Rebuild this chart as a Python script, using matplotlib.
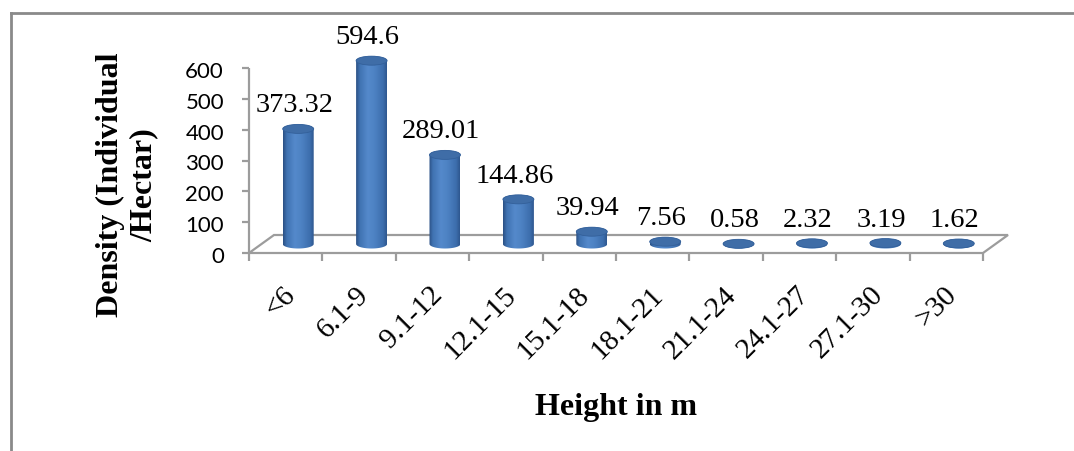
import numpy as np
import matplotlib
matplotlib.use("Agg")
import matplotlib.pyplot as plt
from matplotlib.patches import Ellipse, PathPatch, Polygon
from matplotlib.path import Path
from matplotlib.lines import Line2D
from matplotlib.colors import LinearSegmentedColormap

# ---- data ----
categories = ["<6", "6.1-9", "9.1-12", "12.1-15", "15.1-18",
              "18.1-21", "21.1-24", "24.1-27", "27.1-30", ">30"]
density = [373.32, 594.6, 289.01, 144.86, 39.94, 7.56, 0.58, 2.32, 3.19, 1.62]
value_labels = ["373.32", "594.6", "289.01", "144.86", "39.94",
                "7.56", "0.58", "2.32", "3.19", "1.62"]
y_ticks = [0, 100, 200, 300, 400, 500, 600]

# ---- layout (pixels) ----
W, H, DPI = 1074, 452, 100
X0_PX, STEP_PX = 249, 73.4          # front-left corner of floor, category width
Y0_PX, PX_PER_UNIT = 254, 185 / 600  # baseline and vertical scale
DEPTH_DX_PX, DEPTH_DY_PX = 25, 18    # floor depth offset
CYL_HALF_W_PX, CAP_HALF_H_PX = 15.5, 4.5

fig = plt.figure(figsize=(W / DPI, H / DPI), dpi=DPI)
ax = fig.add_axes([0, 0, 1, 1])
ax.set_axis_off()

# data units
DX = DEPTH_DX_PX / STEP_PX
DY = DEPTH_DY_PX / PX_PER_UNIT
cw = CYL_HALF_W_PX / STEP_PX
ch = CAP_HALF_H_PX / PX_PER_UNIT
n = len(categories)

grey = "#9c9c9c"
serif = "Liberation Serif"
sans = "Lato"
PT = 72 / DPI  # points per pixel

# floor
floor = Polygon([(0, 0), (n, 0), (n + DX, DY), (DX, DY)], closed=True,
                facecolor="white", edgecolor=grey, lw=1.6, zorder=1,
                joinstyle="miter")
ax.add_patch(floor)

# value axis
ax.plot([0, 0], [0, y_ticks[-1]], color=grey, lw=1.6, zorder=2,
        solid_capstyle="butt")
for t in y_ticks:
    ax.plot([-7 / STEP_PX, 0], [t, t], color=grey, lw=1.6, zorder=2,
            solid_capstyle="butt")
    ax.annotate(str(t), xy=(0, t), xytext=(-25 * PT, -3 * PT),
                textcoords="offset points", ha="right", va="center",
                fontsize=16, family=sans, color="black")

# category ticks
for k in range(n + 1):
    ax.plot([k, k], [0, -8 / PX_PER_UNIT], color=grey, lw=1.6, zorder=2,
            solid_capstyle="butt")

# category labels
for i, lab in enumerate(categories):
    ax.annotate(lab, xy=(i + 0.5, 0), xytext=(6 * PT, -37 * PT),
                textcoords="offset points", ha="right", va="center",
                rotation=45, rotation_mode="anchor",
                fontsize=21, family=serif, color="black")

# cylinder shading
body_cmap = LinearSegmentedColormap.from_list(
    "cyl", [(0.0, "#2b5185"), (0.12, "#4073b2"), (0.38, "#5489cb"),
            (0.6, "#4d82c3"), (0.88, "#3d6ead"), (1.0, "#2e5890")])
grad = body_cmap(np.linspace(0, 1, 64))[None, :, :3]


def cylinder(cx, y0, y1):
    th = np.linspace(np.pi, 2 * np.pi, 60)
    lower = np.column_stack([cx + cw * np.cos(th), y0 + ch * np.sin(th)])
    th2 = np.linspace(0, np.pi, 60)
    upper = np.column_stack([cx + cw * np.cos(th2), y1 + ch * np.sin(th2)])
    verts = np.vstack([[[cx - cw, y1]], lower, [[cx + cw, y1]], upper])
    body = PathPatch(Path(verts, closed=False), facecolor="none",
                     edgecolor="none", zorder=3)
    ax.add_patch(body)
    im = ax.imshow(grad, extent=[cx - cw, cx + cw, y0 - ch, y1 + ch],
                   aspect="auto", interpolation="bilinear", zorder=3)
    im.set_clip_path(body)
    cap = Ellipse((cx, y1), 2 * cw, 2 * ch, facecolor="#3f6da7",
                  edgecolor="#33609a", lw=0.6, zorder=4)
    ax.add_patch(cap)


for i, v in enumerate(density):
    cx = i + 0.5 + DX / 2
    base = DY / 2
    top = base + v
    cylinder(cx, base, top)
    ax.annotate(value_labels[i], xy=(cx, top), xytext=(-4 * PT, 24 * PT),
                textcoords="offset points", ha="center", va="center",
                fontsize=20.5, family=serif, color="black", zorder=5)

# axis titles
ax.text(127 / W, 1 - 185 / H, "Density (Individual\n/Hectar)",
        transform=ax.transAxes, rotation=90, ha="center", va="center",
        multialignment="center", fontsize=23, fontweight="bold",
        family=serif, linespacing=1.2)
ax.text(616 / W, 1 - 408 / H, "Height in m", transform=ax.transAxes,
        ha="center", va="center", fontsize=23, fontweight="bold",
        family=serif)

# outer frame (left and top edges)
fig.add_artist(Line2D([10.5 / W, 10.5 / W], [0, 1 - 13.5 / H],
                      transform=fig.transFigure, color="#8a8a8a", lw=2))
fig.add_artist(Line2D([10.5 / W, 1], [1 - 13.5 / H, 1 - 13.5 / H],
                      transform=fig.transFigure, color="#8a8a8a", lw=2))

ax.set_xlim(-X0_PX / STEP_PX, (W - X0_PX) / STEP_PX)
ax.set_ylim(-(H - Y0_PX) / PX_PER_UNIT, Y0_PX / PX_PER_UNIT)

fig.savefig("out.png", dpi=DPI, facecolor="white")
